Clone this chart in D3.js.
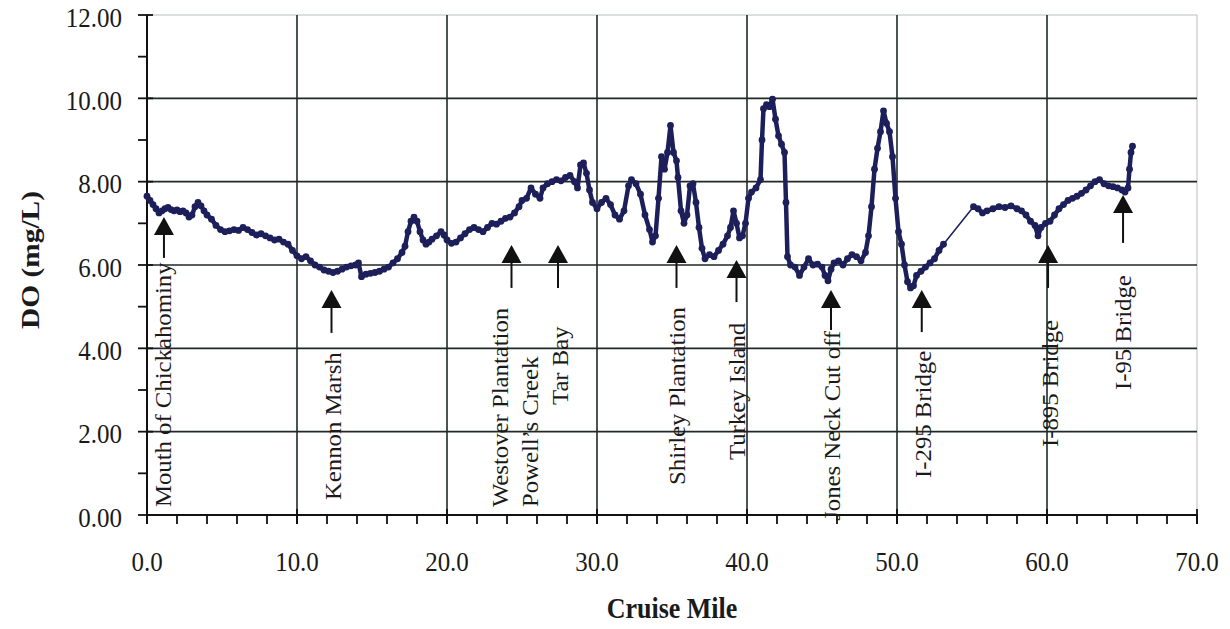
<!DOCTYPE html>
<html>
<head>
<meta charset="utf-8">
<script src="https://cdn.jsdelivr.net/npm/d3@7"></script>
<style>
  body { margin: 0; background: #fff; }
  text { font-family: "Liberation Serif", "Times New Roman", serif; fill: #1a1a1a; }
</style>
</head>
<body>
<div id="chart"></div>
<script>
// cruise mile / dissolved oxygen readings (mg/L)
var miles = [0.0,0.2,0.4,0.6,0.8,1.0,1.2,1.4,1.6,1.8,2.0,2.2,2.4,2.6,2.8,3.0,3.2,3.4,3.6,3.8,
  4.0,4.3,4.6,4.9,5.2,5.5,5.8,6.1,6.4,6.7,7.0,7.3,7.6,7.9,8.2,8.5,8.8,9.1,9.4,9.7,
  10.0,10.3,10.6,10.9,11.2,11.5,11.8,12.1,12.4,12.7,13.0,13.3,13.6,13.9,14.1,14.3,14.6,14.9,15.2,15.5,
  15.8,16.1,16.4,16.7,17.0,17.2,17.4,17.6,17.8,18.0,18.2,18.4,18.6,18.8,19.0,19.3,19.6,19.8,20.0,20.3,
  20.6,20.9,21.2,21.5,21.8,22.1,22.4,22.7,23.0,23.3,23.6,23.9,24.2,24.5,24.8,25.0,25.3,25.6,25.9,26.2,
  26.4,26.7,27.0,27.3,27.6,27.9,28.2,28.5,28.7,28.9,29.1,29.3,29.5,29.7,30.0,30.3,30.6,30.9,31.2,31.5,
  31.8,32.1,32.3,32.6,32.9,33.2,33.5,33.7,33.9,34.1,34.3,34.5,34.7,34.9,35.1,35.3,35.4,35.6,35.8,36.0,
  36.2,36.4,36.6,36.8,37.0,37.2,37.5,37.8,38.1,38.4,38.7,38.9,39.1,39.3,39.5,39.7,39.9,40.1,40.3,40.6,
  40.9,41.0,41.1,41.3,41.5,41.7,41.9,42.1,42.3,42.5,42.6,42.7,42.9,43.2,43.5,43.8,44.1,44.4,44.7,45.0,
  45.2,45.4,45.6,45.8,46.1,46.4,46.7,47.0,47.3,47.6,47.9,48.1,48.3,48.5,48.7,48.9,49.1,49.3,49.5,49.7,
  49.9,50.1,50.3,50.5,50.7,50.9,51.1,51.3,51.6,51.9,52.2,52.5,52.8,53.1,55.1,55.4,55.7,56.0,56.4,56.8,
  57.2,57.6,58.0,58.3,58.6,58.9,59.2,59.4,59.6,59.9,60.2,60.5,60.8,61.1,61.4,61.7,62.0,62.3,62.6,62.9,
  63.2,63.5,63.8,64.1,64.4,64.7,65.0,65.2,65.4,65.5,65.6,65.7];
var doValues = [7.65,7.55,7.45,7.35,7.25,7.3,7.35,7.38,7.33,7.3,7.32,7.28,7.3,7.25,7.15,7.2,7.4,7.5,7.42,7.3,
  7.2,7.1,6.95,6.85,6.8,6.82,6.85,6.83,6.9,6.85,6.78,6.72,6.75,6.7,6.65,6.6,6.62,6.55,6.5,6.35,
  6.22,6.15,6.2,6.1,6.0,5.95,5.88,5.85,5.82,5.85,5.9,5.95,5.98,6.0,6.05,5.72,5.78,5.8,5.82,5.85,
  5.9,5.95,6.05,6.15,6.3,6.45,6.8,7.05,7.15,7.05,6.8,6.6,6.5,6.55,6.62,6.7,6.8,6.72,6.6,6.52,
  6.55,6.65,6.75,6.85,6.9,6.85,6.8,6.9,7.0,6.98,7.05,7.12,7.15,7.25,7.4,7.55,7.6,7.85,7.7,7.6,
  7.85,7.95,8.0,8.05,8.02,8.1,8.15,8.0,7.85,8.4,8.45,8.2,7.8,7.5,7.35,7.5,7.6,7.45,7.2,7.1,
  7.3,7.9,8.05,7.95,7.7,7.2,6.85,6.55,6.7,7.6,8.6,8.3,8.7,9.35,8.7,8.5,8.1,7.3,7.0,7.2,
  7.9,7.95,7.5,6.9,6.4,6.15,6.25,6.2,6.35,6.5,6.7,6.9,7.3,7.0,6.65,6.7,7.0,7.6,7.75,7.85,
  8.05,9.0,9.75,9.85,9.8,9.98,9.5,9.1,8.9,8.7,7.5,6.2,6.0,5.95,5.75,5.95,6.15,6.0,6.02,5.95,
  5.75,5.62,5.9,6.05,6.1,6.0,6.15,6.25,6.2,6.1,6.3,6.7,7.4,8.3,8.8,9.2,9.7,9.4,9.2,8.6,
  7.6,6.8,6.5,6.0,5.6,5.45,5.5,5.75,5.85,5.95,6.05,6.15,6.35,6.5,7.4,7.35,7.25,7.3,7.35,7.4,
  7.38,7.42,7.35,7.3,7.2,7.05,6.95,6.7,6.9,7.0,7.05,7.2,7.35,7.45,7.55,7.6,7.65,7.72,7.8,7.9,
  8.0,8.05,7.95,7.9,7.88,7.85,7.8,7.75,7.85,8.3,8.7,8.85];

var xTicks = [0, 10, 20, 30, 40, 50, 60, 70];
var xMinor = d3.range(0, 70.1, 2);
var yTicks = [0, 2, 4, 6, 8, 10, 12];
var yMinor = [1, 3, 5, 7, 9, 11];

// landmarks along the river
var siteNames = ["Mouth of Chickahominy", "Kennon Marsh", "Westover Plantation", "Powell\u2019s Creek",
  "Tar Bay", "Shirley Plantation", "Turkey Island", "Jones Neck Cut off", "I-295 Bridge",
  "I-895 Bridge", "I-95 Bridge"];
var siteLabelMile = [1.07, 12.4, 23.53, 25.53, 27.53, 35.33, 39.33, 45.67, 51.73, 60.2, 65.07];
var siteLabelFoot = [0.19, 0.36, 0.19, 0.19, 2.64, 0.72, 1.32, -0.14, 0.89, 1.63, 3.0];
var arrowMile = [1.13, 12.3, 24.3, 27.4, 35.3, 39.3, 45.6, 51.65, 60.07, 65.07];
var arrowTip = [7.15, 5.4, 6.48, 6.48, 6.48, 6.12, 5.4, 5.4, 6.48, 7.68];
var arrowTail = [6.17, 4.37, 5.45, 5.45, 5.45, 5.11, 4.44, 4.39, 5.45, 6.53];

var W = 1230, H = 629;
var margin = {top: 15, right: 33, bottom: 114, left: 147};
var plotW = W - margin.left - margin.right,
    plotH = H - margin.top - margin.bottom;

var svg = d3.select("#chart").append("svg")
    .attr("width", W)
    .attr("height", H);

svg.append("rect").attr("width", W).attr("height", H).attr("fill", "#fff");

var g = svg.append("g")
    .attr("transform", "translate(" + margin.left + "," + margin.top + ")");

var x = d3.scaleLinear().domain([0, 70]).range([0, plotW]);
var y = d3.scaleLinear().domain([0, 12]).range([plotH, 0]);

var gridColor = "#1f2a24";

// light frame on top and right
g.append("line").attr("x1", 0).attr("x2", x(70)).attr("y1", y(12)).attr("y2", y(12))
    .attr("stroke", "#b8bfbc").attr("stroke-width", 1);
g.append("line").attr("x1", x(70)).attr("x2", x(70)).attr("y1", y(12)).attr("y2", y(0))
    .attr("stroke", "#b8bfbc").attr("stroke-width", 1);

// gridlines
g.selectAll("line.hgrid").data(yTicks.filter(function(d) { return d > 0 && d < 12; }))
  .enter().append("line")
    .attr("class", "hgrid")
    .attr("x1", 0).attr("x2", plotW)
    .attr("y1", function(d) { return y(d); }).attr("y2", function(d) { return y(d); })
    .attr("stroke", gridColor).attr("stroke-width", 1.6);

g.selectAll("line.vgrid").data(xTicks.filter(function(d) { return d > 0 && d < 70; }))
  .enter().append("line")
    .attr("class", "vgrid")
    .attr("x1", function(d) { return x(d); }).attr("x2", function(d) { return x(d); })
    .attr("y1", 0).attr("y2", plotH)
    .attr("stroke", gridColor).attr("stroke-width", 1.6);

// axes lines
g.append("line").attr("x1", 0).attr("x2", 0).attr("y1", 0).attr("y2", plotH)
    .attr("stroke", "#111").attr("stroke-width", 2);
g.append("line").attr("x1", 0).attr("x2", plotW).attr("y1", plotH).attr("y2", plotH)
    .attr("stroke", "#111").attr("stroke-width", 2);

// y ticks
g.selectAll("line.ymaj").data(yTicks).enter().append("line")
    .attr("class", "ymaj")
    .attr("x1", -9).attr("x2", 6)
    .attr("y1", function(d) { return y(d); }).attr("y2", function(d) { return y(d); })
    .attr("stroke", "#111").attr("stroke-width", 1.8);
g.selectAll("line.ymin").data(yMinor).enter().append("line")
    .attr("class", "ymin")
    .attr("x1", -9).attr("x2", 0)
    .attr("y1", function(d) { return y(d); }).attr("y2", function(d) { return y(d); })
    .attr("stroke", "#111").attr("stroke-width", 1.8);

// x ticks
g.selectAll("line.xmaj").data(xTicks).enter().append("line")
    .attr("class", "xmaj")
    .attr("x1", function(d) { return x(d); }).attr("x2", function(d) { return x(d); })
    .attr("y1", plotH - 6).attr("y2", plotH + 9)
    .attr("stroke", "#111").attr("stroke-width", 1.8);
g.selectAll("line.xmin").data(xMinor).enter().append("line")
    .attr("class", "xmin")
    .attr("x1", function(d) { return x(d); }).attr("x2", function(d) { return x(d); })
    .attr("y1", plotH).attr("y2", plotH + 9)
    .attr("stroke", "#111").attr("stroke-width", 1.8);

// tick labels (the source image is stretched a little vertically)
var stretch = 1.13;
g.selectAll("text.ylab").data(yTicks).enter().append("text")
    .attr("class", "ylab")
    .attr("transform", function(d) { return "translate(-25," + (y(d) + 2) + ") scale(1," + stretch + ")"; })
    .attr("text-anchor", "end")
    .attr("dominant-baseline", "central")
    .style("font-size", "25px")
    .text(function(d) { return d3.format(".2f")(d); });

g.selectAll("text.xlab").data(xTicks).enter().append("text")
    .attr("class", "xlab")
    .attr("transform", function(d) { return "translate(" + x(d) + "," + (plotH + 46) + ") scale(1," + stretch + ")"; })
    .attr("text-anchor", "middle")
    .attr("dominant-baseline", "central")
    .style("font-size", "25px")
    .text(function(d) { return d3.format(".1f")(d); });

// axis titles
svg.append("text")
    .attr("transform", "translate(30,260) scale(1," + stretch + ") rotate(-90)")
    .attr("text-anchor", "middle")
    .attr("dominant-baseline", "central")
    .style("font-size", "26px")
    .style("font-weight", "bold")
    .text("DO (mg/L)");

svg.append("text")
    .attr("transform", "translate(672,608) scale(1," + stretch + ")")
    .attr("text-anchor", "middle")
    .attr("dominant-baseline", "central")
    .style("font-size", "26px")
    .style("font-weight", "bold")
    .text("Cruise Mile");

// DO series
var pts = miles.map(function(m, i) { return [m, doValues[i]]; });
var line = d3.line()
    .x(function(d) { return x(d[0]); })
    .y(function(d) { return y(d[1]); });

var navy = "#1c1f5a";
// thin connector everywhere (shows the unsampled stretch near mile 54)
g.append("path")
    .datum(pts)
    .attr("d", line)
    .attr("fill", "none")
    .attr("stroke", navy)
    .attr("stroke-width", 1.5);

// heavy trace where readings are dense
var segs = [[]];
pts.forEach(function(p, i) {
  if (i > 0 && p[0] - pts[i - 1][0] > 1) segs.push([]);
  segs[segs.length - 1].push(p);
});
g.selectAll("path.seg").data(segs).enter().append("path")
    .attr("class", "seg")
    .attr("d", line)
    .attr("fill", "none")
    .attr("stroke", navy)
    .attr("stroke-width", 4.5)
    .attr("stroke-linejoin", "round");

g.selectAll("circle.pt").data(pts).enter().append("circle")
    .attr("class", "pt")
    .attr("cx", function(d) { return x(d[0]); })
    .attr("cy", function(d) { return y(d[1]); })
    .attr("r", 3.4)
    .attr("fill", navy);

// arrows
var arrows = g.selectAll("g.arrow").data(arrowMile).enter().append("g").attr("class", "arrow");
arrows.append("line")
    .attr("x1", function(d) { return x(d); }).attr("x2", function(d) { return x(d); })
    .attr("y1", function(d, i) { return y(arrowTip[i]) + 10; })
    .attr("y2", function(d, i) { return y(arrowTail[i]); })
    .attr("stroke", "#111").attr("stroke-width", 2);
arrows.append("path")
    .attr("d", function(d, i) {
      var cx = x(d), ty = y(arrowTip[i]);
      return "M" + cx + "," + ty + "L" + (cx + 10) + "," + (ty + 18) + "L" + (cx - 10) + "," + (ty + 18) + "Z";
    })
    .attr("fill", "#111");

// landmark labels
g.selectAll("text.site").data(siteNames).enter().append("text")
    .attr("class", "site")
    .attr("transform", function(d, i) {
      return "translate(" + x(siteLabelMile[i]) + "," + y(siteLabelFoot[i]) + ") scale(1,1.1) rotate(-90)";
    })
    .attr("text-anchor", "start")
    .attr("dominant-baseline", "central")
    .style("font-size", "22.5px")
    .text(function(d) { return d; });
</script>
</body>
</html>
